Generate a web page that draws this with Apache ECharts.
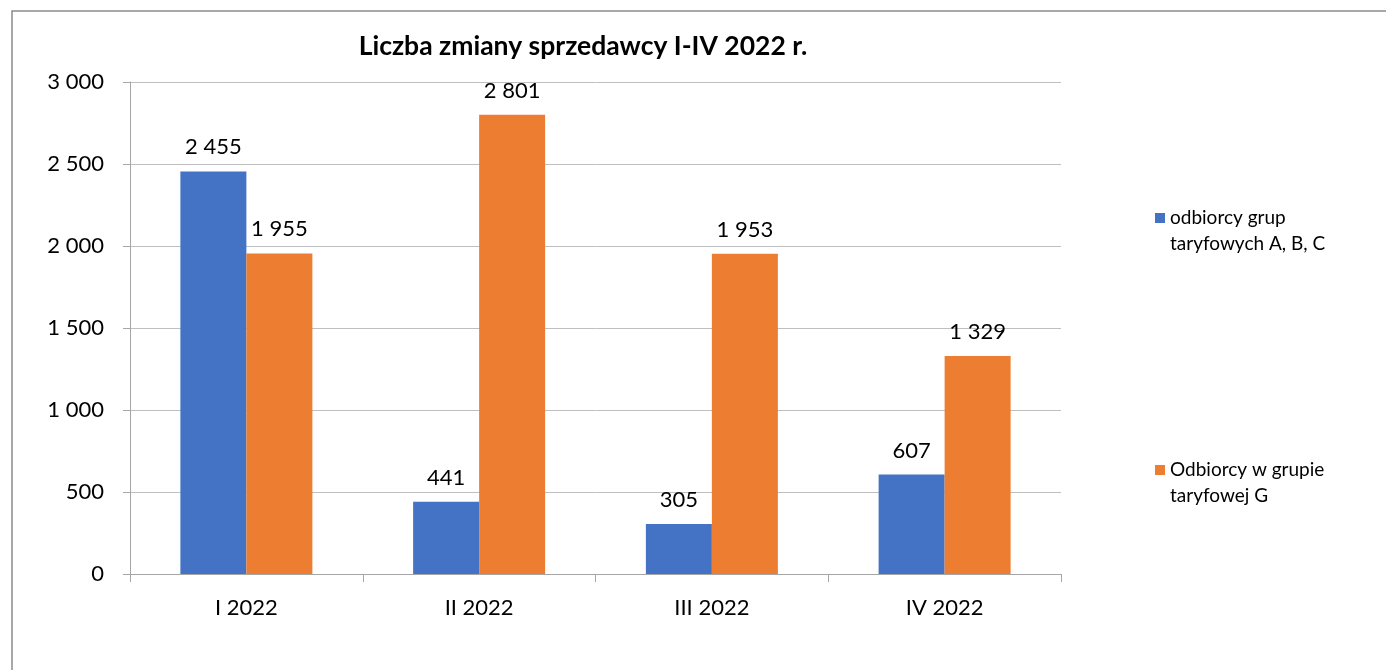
<!DOCTYPE html>
<html>
<head>
<meta charset="utf-8">
<script src="https://cdn.jsdelivr.net/npm/echarts@6/dist/echarts.min.js"></script>
<style>
html,body{margin:0;padding:0;background:#fff;}
#c{width:1386px;height:670px;}
</style>
</head>
<body>
<div id="c"></div>
<script>
const categories = ['I 2022', 'II 2022', 'III 2022', 'IV 2022'];
const seriesABC = [2455, 441, 305, 607];
const seriesG = [1955, 2801, 1953, 1329];
const nameABC = 'odbiorcy grup\ntaryfowych A, B, C';
const nameG = 'Odbiorcy w grupie\ntaryfowej G';
const titleText = 'Liczba zmiany sprzedawcy I-IV 2022 r.';

function fmt(v){
  return String(v).replace(/\B(?=(\d{3})+(?!\d))/g, ' ');
}

const chart = echarts.init(document.getElementById('c'), null, {renderer:'canvas'});
const FONT = 'Lato';
const legendText = {fontFamily: FONT, fontSize: 19, color: '#000', lineHeight: 26};
const legendIcon = 'path://M0,0L10,0L10,10L0,10Z M0,36L0,36Z';
chart.setOption({
  backgroundColor: '#fff',
  animation: false,
  title: {
    text: titleText,
    left: 578, top: 28, textAlign: 'center',
    textStyle: {fontFamily: FONT, fontSize: 26.5, fontWeight: 'bold', color: '#000'}
  },
  graphic: [{
    type: 'rect', shape: {x: 12, y: 11, width: 1500, height: 800},
    style: {fill: 'none', stroke: '#8c8c8c', lineWidth: 1.5}, silent: true, z: -1
  }],
  legend: [
    {data: [nameABC], left: 1155, top: 205, padding: 0, orient: 'vertical', itemWidth: 10, itemHeight: 36, itemGap: 8,
     icon: legendIcon, textStyle: legendText, selectedMode: false},
    {data: [nameG], left: 1155, top: 457, padding: 0, orient: 'vertical', itemWidth: 10, itemHeight: 36, itemGap: 8,
     icon: legendIcon, textStyle: legendText, selectedMode: false}
  ],
  grid: {left: 130, right: 325, top: 82, bottom: 96, containLabel: false},
  xAxis: {
    type: 'category', data: categories,
    axisLine: {lineStyle: {color: '#a6a6a6', width: 1}},
    axisTick: {show: true, length: 8, alignWithLabel: false, lineStyle: {color: '#a6a6a6'}},
    axisLabel: {fontFamily: FONT, fontSize: 22, color: '#000', margin: 23}
  },
  yAxis: {
    type: 'value', min: 0, max: 3000, interval: 500,
    axisLine: {show: true, lineStyle: {color: '#a6a6a6', width: 1}},
    axisTick: {show: true, length: 7, lineStyle: {color: '#a6a6a6'}},
    splitLine: {lineStyle: {color: '#bfbfbf', width: 1}},
    axisLabel: {fontFamily: FONT, fontSize: 22, color: '#000', margin: 26, formatter: fmt}
  },
  series: [
    {name: nameABC, type: 'bar', data: seriesABC, barWidth: 66, barGap: '0%',
     itemStyle: {color: '#4472C4'},
     label: {show: true, position: 'top', distance: 13, fontFamily: FONT, fontSize: 22, color: '#000', formatter: p => fmt(p.value)}},
    {name: nameG, type: 'bar', data: seriesG, barWidth: 66, barGap: '0%',
     itemStyle: {color: '#ED7D31'},
     label: {show: true, position: 'top', distance: 13, fontFamily: FONT, fontSize: 22, color: '#000', formatter: p => fmt(p.value)}}
  ]
});
</script>
</body>
</html>
